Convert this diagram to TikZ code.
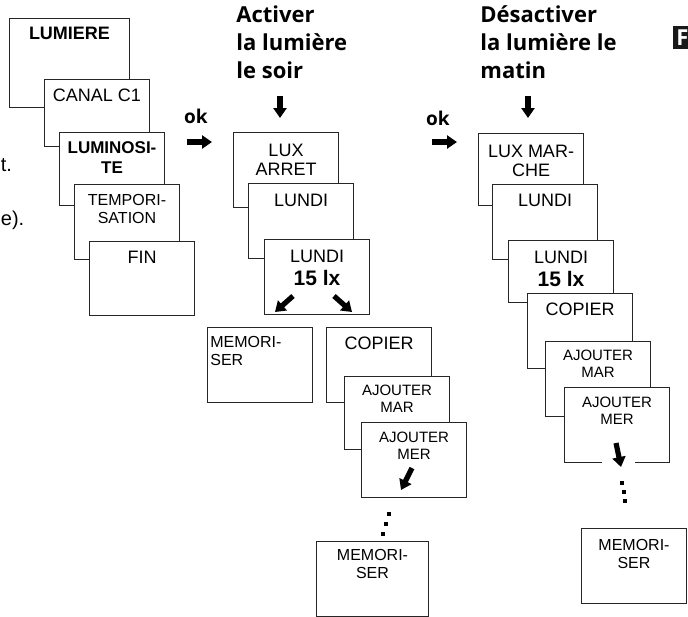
\documentclass[tikz,border=0pt]{standalone}
\usepackage{fontspec}
\setmainfont{Liberation Sans}
\newfontfamily\headfont{Open Sans}
\usetikzlibrary{positioning,arrows.meta}

\newcommand{\luxbig}[1]{{\fontsize{10.5}{12}\selectfont\bfseries #1}}

\tikzset{
  screen/.style={draw=black!85, fill=white, line width=0.5pt, inner sep=0pt, anchor=north west,
    minimum width=52.5pt, minimum height=37.5pt},
  txt/.style={inner sep=0pt, align=center, font=\fontsize{9}{9.5}\selectfont},
  txtb/.style={txt, font=\fontsize{8.5}{10}\selectfont\bfseries},
  txts/.style={txt, font=\fontsize{8}{9}\selectfont},
  txtxs/.style={txt, font=\fontsize{7.5}{8.5}\selectfont},
  head/.style={inner sep=0pt, anchor=north west, align=left, font=\headfont\bfseries\fontsize{11}{14}\selectfont},
  fat/.style={line width=2.6pt, -{Triangle[length=5pt,width=6.5pt]}}
}

\begin{document}
\begin{tikzpicture}[x=0.5pt, y=-0.5pt]
\useasboundingbox (0,0) rectangle (688,616);

% text left over at the left side
\node[txt, font=\fontsize{10}{11}\selectfont, anchor=west] (fragt) at (0.5,165) {t.};
\node[txt, font=\fontsize{10}{11}\selectfont, anchor=west] (frage) at (0.5,220) {e).};

% menu
\node[screen, minimum width=60pt, minimum height=44.5pt] (lumiere) at (9,18) {};
\node[txt, font=\fontsize{9}{10}\selectfont\bfseries, below=4.5pt of lumiere.north] (lumieret) {LUMIERE};
\node[screen, minimum height=33.5pt] (canal) at (44,79) {};
\node[txt, below=4.75pt of canal.north] (canalt) {CANAL C1};
\node[screen, minimum height=36.5pt] (lumino) at (59,132) {};
\node[txtb, below=4.5pt of lumino.north] (luminot) {LUMINOSI-\\TE};
\node[screen] (tempo) at (74,184) {};
\node[txts, below=5pt of tempo.north] (tempot) {TEMPORI-\\SATION};
\node[screen, minimum height=37pt] (fin) at (89,241) {};
\node[txt, below=4.75pt of fin.north] (fint) {FIN};

\node[txt, font=\headfont\bfseries\fontsize{9.5}{10}\selectfont] (oka) at (196,116) {ok};
\draw[fat] (187,142) -- (212,142);

% evening
\node[head] (soir) at (236,5) {Activer\\la lumière\\le soir};
\draw[fat] (280,96) -- (280,118);

\node[screen] (luxa) at (233,132) {};
\node[txt, below=6pt of luxa.north] (luxat) {LUX\\ARRET};
\node[screen] (lundia) at (248,183) {};
\node[txt, below=5.5pt of lundia.north] (lundiat) {LUNDI};
\node[screen] (luxqa) at (264,239) {};
\node[txt, below=5.5pt of luxqa.north] (luxqat) {LUNDI\\[2pt]\luxbig{15 lx}};
\draw[fat] (293,296) -- (275,312);
\draw[fat] (334,296) -- (352,312);

\node[screen] (mema) at (207,327) {};
\node[txts, align=left, below right=4.5pt and 1.5pt of mema.north west] (memat) {MEMORI-\\SER};
\node[screen] (copa) at (326,327) {};
\node[txt, below=5pt of copa.north] (copat) {COPIER};
\node[screen, minimum height=36.5pt] (ajmara) at (344,376) {};
\node[txtxs, below=4.5pt of ajmara.north] (ajmarat) {AJOUTER\\MAR};
\node[screen] (ajmera) at (361,422) {};
\node[txtxs, below=5pt of ajmera.north] (ajmerat) {AJOUTER\\MER};
\draw[fat] (412,468) -- (401,490);
\foreach \dx/\dy in {389/514, 386/524, 383/534}
  \fill (\dx-2,\dy-2) rectangle ++(4,4);
\node[screen, minimum width=56pt] (memb) at (316,541) {};
\node[txts, below=4pt of memb.north] (membt) {MEMORI-\\SER};

% morning
\node[txt, font=\headfont\bfseries\fontsize{9.5}{10}\selectfont] (okb) at (438,118) {ok};
\draw[fat] (432,142) -- (457,142);

\node[head] (matin) at (480,5) {Désactiver\\la lumière le\\matin};
\draw[fat] (528,96) -- (528,118);

\node[screen, minimum height=36pt] (luxm) at (478,133) {};
\node[txt, below=6pt of luxm.north] (luxmt) {LUX MAR-\\CHE};
\node[screen] (lundim) at (492,184) {};
\node[txt, below=5pt of lundim.north] (lundimt) {LUNDI};
\node[screen, minimum height=31pt] (luxqm) at (508,240) {};
\node[txt, below=5.5pt of luxqm.north] (luxqmt) {LUNDI\\[2pt]\luxbig{15 lx}};
\node[screen] (copm) at (527,293) {};
\node[txt, below=5pt of copm.north] (copmt) {COPIER};
\node[screen] (ajmarm) at (545,341) {};
\node[txtxs, below=4.5pt of ajmarm.north] (ajmarmt) {AJOUTER\\MAR};
\node[screen] (ajmerm) at (564,387) {};
\node[txtxs, below=5pt of ajmerm.north] (ajmermt) {AJOUTER\\MER};
\fill[white] (602,459) rectangle (635,465);
\draw[fat] (616,443) -- (621,467);
\foreach \dx/\dy in {622/483, 624/492, 625/501}
  \fill (\dx-2,\dy-2) rectangle ++(4,4);
\node[screen] (memm) at (581,528) {};
\node[txts, below=5.5pt of memm.north] (memmt) {MEMORI-\\SER};

% language tag
\fill[black!90] (673,26) rectangle (700,49);
\node[text=white, inner sep=0pt, anchor=west, font=\headfont\bfseries\fontsize{11}{12}\selectfont] (tagf) at (676,38) {F};
\end{tikzpicture}
\end{document}
